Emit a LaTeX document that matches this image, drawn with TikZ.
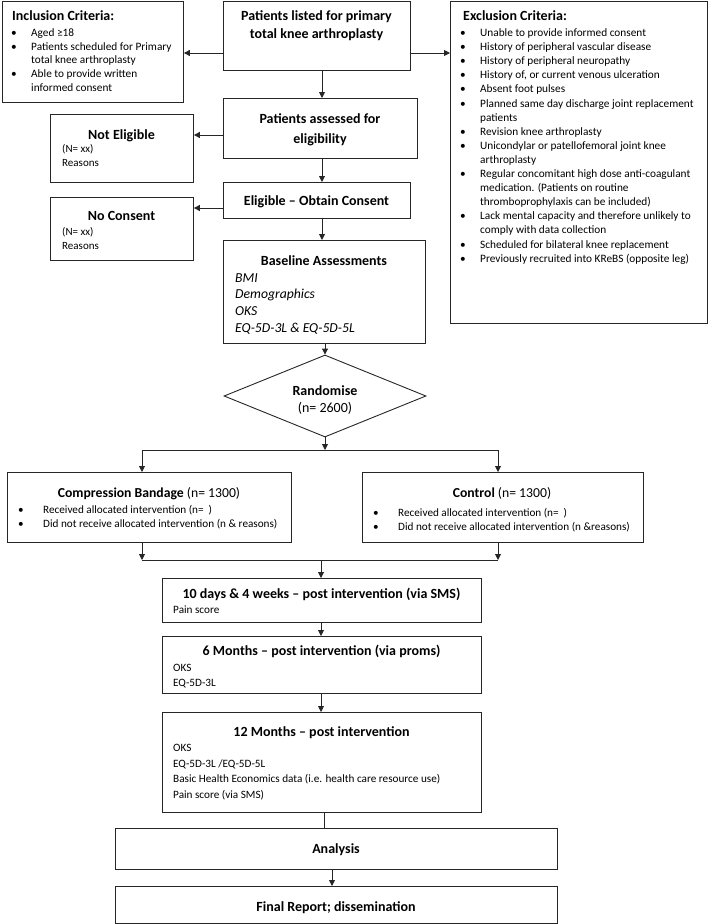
\documentclass[tikz,border=0pt]{standalone}
\usepackage{fontspec}
\setmainfont{Carlito}
\usetikzlibrary{arrows.meta,shapes.geometric,calc}
\newcommand\fhead{\fontsize{14}{16}\selectfont\bfseries}
\newcommand\fbody{\fontsize{11.3}{13}\selectfont}
\newcommand\fsmall{\fontsize{11}{12}\selectfont}
\newcommand\flow{\fontsize{11.2}{13}\selectfont}
\newcommand\fital{\fontsize{13.7}{16}\selectfont\itshape}
\newcommand\fdia{\fontsize{14}{16}\selectfont}
\begin{document}
\begin{tikzpicture}[x=1pt,y=-1pt,
  box/.style={draw=black!85,line width=0.9pt,inner sep=0pt,anchor=north west},
  dia/.style={draw=black!85,line width=0.9pt,inner sep=0pt,shape=diamond,minimum width=202pt,minimum height=82pt},
  tl/.style={inner sep=0pt,anchor=base west},
  tc/.style={inner sep=0pt,anchor=base},
  arr/.style={draw=black!85,line width=0.9pt,-{Triangle[length=6pt,width=6pt]}},
  ln/.style={draw=black!85,line width=0.9pt}]
\useasboundingbox (0,0) rectangle (709,924);

% ---------- boxes ----------
\node[box,minimum width=181pt,minimum height=101pt] (incl) at (2,1) {};
\node[box,minimum width=187pt,minimum height=69pt] (top) at (223,1) {};
\node[box,minimum width=257pt,minimum height=322pt] (excl) at (450,1) {};
\node[box,minimum width=194pt,minimum height=60pt] (assess) at (223,98) {};
\node[box,minimum width=143pt,minimum height=68pt] (notel) at (50,114) {};
\node[box,minimum width=187pt,minimum height=36pt] (elig) at (223,182) {};
\node[box,minimum width=143pt,minimum height=63pt] (nocons) at (50,197) {};
\node[box,minimum width=202pt,minimum height=103pt] (base) at (223,240) {};
\node[dia] (rand) at (325,396) {};
\node[box,minimum width=284pt,minimum height=70pt] (comp) at (7,472) {};
\node[box,minimum width=281pt,minimum height=70pt] (ctrl) at (362,472) {};
\node[box,minimum width=319pt,minimum height=44pt] (dten) at (162,578) {};
\node[box,minimum width=319pt,minimum height=57pt] (msix) at (162,636) {};
\node[box,minimum width=319pt,minimum height=100pt] (mtw) at (162,712) {};
\node[box,minimum width=442pt,minimum height=41pt] (anal) at (115,828) {};
\node[box,minimum width=442pt,minimum height=37pt] (fin) at (115,886) {};

% ---------- texts ----------
% inclusion
\node[tl,font=\fhead] (inT) at (12,20) {Inclusion Criteria:};
\node[tl,font=\fbody] (inb1) at (11,36.5) {•};
\node[tl,font=\fbody] (in1) at (31,36.5) {Aged ≥18};
\node[tl,font=\fbody] (inb2) at (11,50) {•};
\node[tl,font=\fbody] (in2) at (31,50) {Patients scheduled for Primary};
\node[tl,font=\fbody] (in3) at (31,63.5) {total knee arthroplasty};
\node[tl,font=\fbody] (inb3) at (11,77.5) {•};
\node[tl,font=\fbody] (in4) at (31,77.5) {Able to provide written};
\node[tl,font=\fbody] (in5) at (31,91.5) {informed consent};

% top
\node[tc,font=\fhead] (top1) at (316.5,20.5) {Patients listed for primary};
\node[tc,font=\fhead] (top2) at (316.5,38.5) {total knee arthroplasty};

% exclusion
\node[tl,font=\fhead] (exT) at (463,20) {Exclusion Criteria:};
\foreach \b/\t [count=\i] in {1/{Unable to provide informed consent},
  1/{History of peripheral vascular disease},
  1/{History of peripheral neuropathy},
  1/{History of, or current venous ulceration},
  1/{Absent foot pulses},
  1/{Planned same day discharge joint replacement},
  0/{patients},
  1/{Revision knee arthroplasty},
  1/{Unicondylar or patellofemoral joint knee},
  0/{arthroplasty},
  1/{Regular concomitant high dose anti-coagulant},
  0/{medication. (Patients on routine},
  0/{thromboprophylaxis can be included)},
  1/{Lack mental capacity and therefore unlikely to},
  0/{comply with data collection},
  1/{Scheduled for bilateral knee replacement},
  1/{Previously recruited into KReBS (opposite leg)}}{
  \node[tl,font=\fbody] (ex\i) at (480,{36.5+14.1*(\i-1)}) {\t};
  \ifnum\b=1 \node[tl,font=\fbody] (exb\i) at (460,{36.5+14.1*(\i-1)}) {•};\fi
}

% assessed
\node[tc,font=\fhead] (as1) at (320,123) {Patients assessed for};
\node[tc,font=\fhead] (as2) at (320,143) {eligibility};

% not eligible
\node[tc,font=\fhead] (ne1) at (121.5,139) {Not Eligible};
\node[tl,font=\fsmall] (ne2) at (62,152) {(N= xx)};
\node[tl,font=\fsmall] (ne3) at (62,166.5) {Reasons};

% eligible
\node[tc,font=\fhead] (el1) at (316.5,205) {Eligible – Obtain Consent};

% no consent
\node[tc,font=\fhead] (nc1) at (121.5,220.5) {No Consent};
\node[tl,font=\fsmall] (nc2) at (62,235.5) {(N= xx)};
\node[tl,font=\fsmall] (nc3) at (62,249.5) {Reasons};

% baseline
\node[tc,font=\fhead] (ba1) at (324,265) {Baseline Assessments};
\node[tl,font=\fital] (ba2) at (235,282) {BMI};
\node[tl,font=\fital] (ba3) at (235,298.5) {Demographics};
\node[tl,font=\fital] (ba4) at (235,315.5) {OKS};
\node[tl,font=\fital] (ba5) at (235,332) {EQ-5D-3L \& EQ-5D-5L};

% randomise
\node[tc,font=\fdia\bfseries] (ra1) at (325,395) {Randomise};
\node[tc,font=\fdia] (ra2) at (325,412) {(n= 2600)};

% compression
\node[tc,font=\fontsize{13.7}{16}\selectfont] (co1) at (149,497) {\textbf{Compression Bandage} (n= 1300)};
\node[tl,font=\flow] (cob1) at (18,513) {•};
\node[tl,font=\flow] (co2) at (43,513) {Received allocated intervention (n=~~)};
\node[tl,font=\flow] (cob2) at (18,527.5) {•};
\node[tl,font=\flow] (co3) at (43,527.5) {Did not receive allocated intervention (n \& reasons)};

% control
\node[tc,font=\fontsize{13.7}{16}\selectfont] (ct1) at (502,497) {\textbf{Control} (n= 1300)};
\node[tl,font=\flow] (ctb1) at (373,516) {•};
\node[tl,font=\flow] (ct2) at (398,516) {Received allocated intervention (n=~~)};
\node[tl,font=\flow] (ctb2) at (373,530) {•};
\node[tl,font=\flow] (ct3) at (398,530) {Did not receive allocated intervention (n \&reasons)};

% 10 days
\node[tc,font=\fhead] (dt1) at (321.5,598) {10 days \& 4 weeks – post intervention (via SMS)};
\node[tl,font=\flow] (dt2) at (173,613) {Pain score};

% 6 months
\node[tc,font=\fhead] (ms1) at (321.5,655.5) {6 Months – post intervention (via proms)};
\node[tl,font=\flow] (ms2) at (173,671) {OKS};
\node[tl,font=\flow] (ms3) at (173,686.5) {EQ-5D-3L};

% 12 months
\node[tc,font=\fhead] (mt1) at (321.5,736.5) {12 Months – post intervention};
\node[tl,font=\flow] (mt2) at (173,751) {OKS};
\node[tl,font=\flow] (mt3) at (173,767) {EQ-5D-3L /EQ-5D-5L};
\node[tl,font=\flow] (mt4) at (173,782.5) {Basic Health Economics data (i.e. health care resource use)};
\node[tl,font=\flow] (mt5) at (173,798) {Pain score (via SMS)};

% analysis / final
\node[tc,font=\fhead] (an1) at (336,853) {Analysis};
\node[tc,font=\fhead] (fi1) at (336,911) {Final Report; dissemination};

% ---------- helper coordinates ----------
\coordinate (col) at (322,0);
\coordinate (rowA) at (0,53);
\coordinate (rowB) at (0,135);
\coordinate (rowC) at (0,208);
\coordinate (split) at (325,450);
\coordinate (splitL) at (142,450);
\coordinate (splitR) at (498,450);
\coordinate (join) at (321,560);
\coordinate (joinL) at (142,560);
\coordinate (joinR) at (498,560);
\coordinate (colB) at (324,0);
\coordinate (colC) at (332,0);

% ---------- connectors ----------
\draw[arr] (top.west |- rowA) -- (incl.east |- rowA);
\draw[arr] (top.east |- rowA) -- (excl.west |- rowA);
\draw[arr] (top.south -| col) -- (assess.north -| col);
\draw[arr] (assess.west |- rowB) -- (notel.east |- rowB);
\draw[arr] (assess.south -| col) -- (elig.north -| col);
\draw[arr] (elig.west |- rowC) -- (nocons.east |- rowC);
\draw[arr] (elig.south -| col) -- (base.north -| col);
\draw[arr] (base.south -| rand.north) -- (rand.north);
\draw[arr] (rand.south) -- (split);
\draw[ln] (splitL) -- (splitR);
\draw[arr] (splitL) -- (comp.north -| splitL);
\draw[arr] (splitR) -- (ctrl.north -| splitR);
\draw[arr] (comp.south -| joinL) -- (joinL);
\draw[arr] (ctrl.south -| joinR) -- (joinR);
\draw[ln] (joinL) -- (joinR);
\draw[arr] (join) -- (dten.north -| join);
\draw[arr] (dten.south -| join) -- (msix.north -| join);
\draw[arr] (msix.south -| join) -- (mtw.north -| join);
\draw[ln] (mtw.south -| colB) -- (anal.north -| colB);
\draw[arr] (anal.south -| colC) -- (fin.north -| colC);
\end{tikzpicture}
\end{document}
